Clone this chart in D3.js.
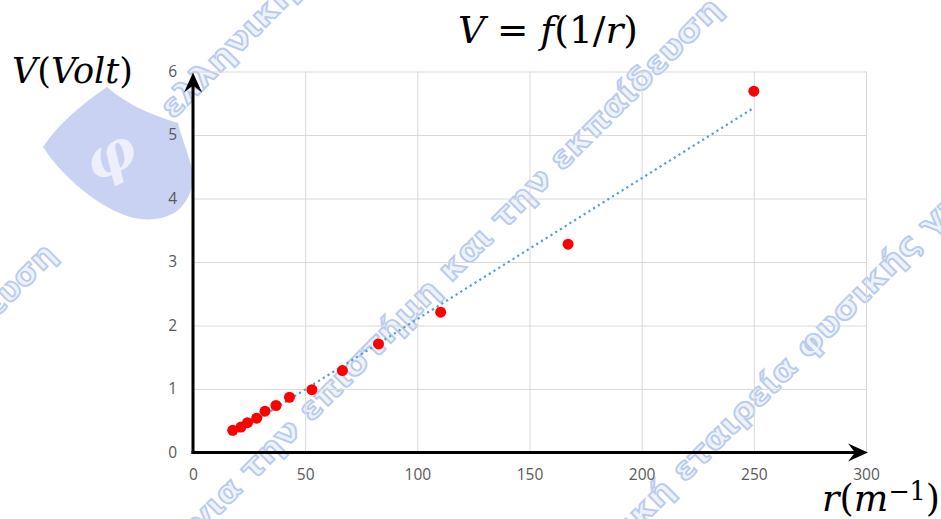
<!DOCTYPE html>
<html>
<head>
<meta charset="utf-8">
<script src="https://cdn.jsdelivr.net/npm/d3@7"></script>
<style>
  html, body { margin: 0; padding: 0; background: #ffffff; }
  svg { display: block; }
</style>
</head>
<body>
<svg id="chart" width="941" height="519"></svg>
<script>
// ---- data ----
const rValues = [17.7, 21.4, 24.3, 28.4, 32.1, 37.0, 43.0, 53.0, 66.6, 82.7, 110.4, 167.2, 250];
const vValues = [0.35, 0.40, 0.47, 0.54, 0.65, 0.74, 0.87, 0.99, 1.29, 1.71, 2.21, 3.28, 5.69];
const xTicks = [0, 50, 100, 150, 200, 250, 300];
const yTicks = [0, 1, 2, 3, 4, 5, 6];
const watermarkTexts = [
  "εκπαίδευση",
  "ελληνική εταιρεία",
  "ελληνική εταιρεία φυσικής για την επιστήμη και την εκπαίδευση",
  "ελληνική εταιρεία φυσικής για την επιστήμη"
];

const svg = d3.select("#chart");
const W = 941, H = 519;
svg.append("rect").attr("width", W).attr("height", H).attr("fill", "#fff");

const x = d3.scaleLinear().domain([0, 300]).range([193, 866]);
const y = d3.scaleLinear().domain([0, 6]).range([452.5, 71.5]);

// ---- watermark (background) ----
const wm = svg.append("g").attr("class", "watermark");
wm.append("path")
  .attr("d", "M107,87 C82,104 58,124 43,147 C62,176 96,206 130,217 C148,222 166,219 177,211 C192,199 195,180 191,165 C187,150 181,136 178,123 C158,117 128,106 107,87 Z")
  .attr("fill", "#cad2f3");
wm.append("text")
  .attr("transform", "translate(118,172) rotate(-25)")
  .attr("text-anchor", "middle")
  .attr("font-family", "DejaVu Serif")
  .attr("font-style", "italic")
  .attr("font-weight", "bold")
  .attr("font-size", 56)
  .attr("fill", "#edf0fb")
  .text("φ");

const perChar = 20.9;
const wmStarts = [[-98, 396], [165, 112], [-186, 904], [544, 608]];
watermarkTexts.forEach((t, i) => {
  const [sx, sy] = wmStarts[i];
  wm.append("text")
    .attr("transform", `translate(${sx + 8},${sy + 8}) rotate(-45)`)
    .attr("font-family", "DejaVu Sans")
    .attr("font-weight", "bold")
    .attr("font-size", 31)
    .attr("fill", "#eef3fc")
    .attr("stroke", "#b9ccf0")
    .attr("stroke-width", 1.8)
    .attr("textLength", t.length * perChar)
    .attr("lengthAdjust", "spacingAndGlyphs")
    .text(t);
});

// ---- gridlines + tick labels via axes ----
const xAxis = d3.axisBottom(x).tickValues(xTicks).tickSize(-(y(0) - y(6))).tickPadding(16).tickFormat(d3.format("d"));
const gx = svg.append("g").attr("transform", `translate(0,${y(0)})`).call(xAxis);
gx.select(".domain").remove();
gx.selectAll(".tick line").attr("stroke", "#d9d9d9").attr("stroke-width", 1);
gx.selectAll(".tick text").attr("fill", "#595959").attr("font-family", "Open Sans").attr("font-size", 15.5);

const yAxis = d3.axisLeft(y).tickValues(yTicks).tickSize(-(x(300) - x(0))).tickPadding(16).tickFormat(d3.format("d"));
const gy = svg.append("g").attr("transform", `translate(${x(0)},0)`).call(yAxis);
gy.select(".domain").remove();
gy.selectAll(".tick line").attr("stroke", "#d9d9d9").attr("stroke-width", 1);
gy.selectAll(".tick text").attr("fill", "#595959").attr("font-family", "Open Sans").attr("font-size", 15.5);

// ---- linear trendline (least squares on the data) ----
const n = rValues.length;
const mx = d3.mean(rValues), my = d3.mean(vValues);
let sxy = 0, sxx = 0;
for (let i = 0; i < n; i++) { sxy += (rValues[i] - mx) * (vValues[i] - my); sxx += (rValues[i] - mx) ** 2; }
const slope = sxy / sxx, intercept = my - slope * mx;
const xMin = d3.min(rValues), xMax = d3.max(rValues);
svg.append("line")
  .attr("x1", x(xMin)).attr("y1", y(intercept + slope * xMin))
  .attr("x2", x(xMax)).attr("y2", y(intercept + slope * xMax))
  .attr("stroke", "#5b9bd5").attr("stroke-width", 2.2)
  .attr("stroke-dasharray", "2.2 3.4");

// ---- axis lines with arrows ----
svg.append("line")
  .attr("x1", x(0) - 1.5).attr("y1", y(0)).attr("x2", x(300) - 6).attr("y2", y(0))
  .attr("stroke", "#000").attr("stroke-width", 3);
svg.append("line")
  .attr("x1", x(0)).attr("y1", y(0) + 1.5).attr("x2", x(0)).attr("y2", y(6) + 6)
  .attr("stroke", "#000").attr("stroke-width", 3);
const ax = x(300) + 2, ay = y(0);
svg.append("path")
  .attr("d", `M${ax},${ay} L${ax - 20},${ay - 9} L${ax - 13},${ay} L${ax - 20},${ay + 9} Z`)
  .attr("fill", "#000");
const bx = x(0), by = y(6) + 1;
svg.append("path")
  .attr("d", `M${bx},${by} L${bx - 9},${by + 20} L${bx},${by + 13} L${bx + 9},${by + 20} Z`)
  .attr("fill", "#000");

// ---- points ----
svg.append("g").selectAll("circle")
  .data(rValues.map((r, i) => [r, vValues[i]]))
  .join("circle")
  .attr("cx", d => x(d[0])).attr("cy", d => y(d[1]))
  .attr("r", 5.5).attr("fill", "#ff0000");

// ---- math-style labels ----
function fitWidth(t, targetW) {
  const l = t.node().getComputedTextLength();
  const fs = parseFloat(t.attr("font-size"));
  t.attr("font-size", fs * targetW / l);
}
function mathText(xPos, yPos, parts, targetW) {
  const t = svg.append("text")
    .attr("x", xPos).attr("y", yPos)
    .attr("font-family", "DejaVu Serif")
    .attr("font-size", 34)
    .attr("fill", "#000");
  parts.forEach(p => {
    const ts = t.append("tspan").text(p.s).attr("font-style", p.i ? "italic" : "normal");
    if (p.sup) ts.attr("font-size", "0.7em").attr("dy", "-0.45em");
    if (p.after) ts.attr("dy", "0.315em");
  });
  fitWidth(t, targetW);
  return t;
}
mathText(458, 43, [
  { s: "V", i: true }, { s: " = " }, { s: "f", i: true }, { s: "(1/" }, { s: "r", i: true }, { s: ")" }
], 180);
mathText(12, 83, [
  { s: "V", i: true }, { s: "(" }, { s: "Volt", i: true }, { s: ")" }
], 121);
mathText(822, 511, [
  { s: "r", i: true }, { s: "(" }, { s: "m", i: true }, { s: "−1", sup: true }, { s: ")", after: true }
], 118);
</script>
</body>
</html>
